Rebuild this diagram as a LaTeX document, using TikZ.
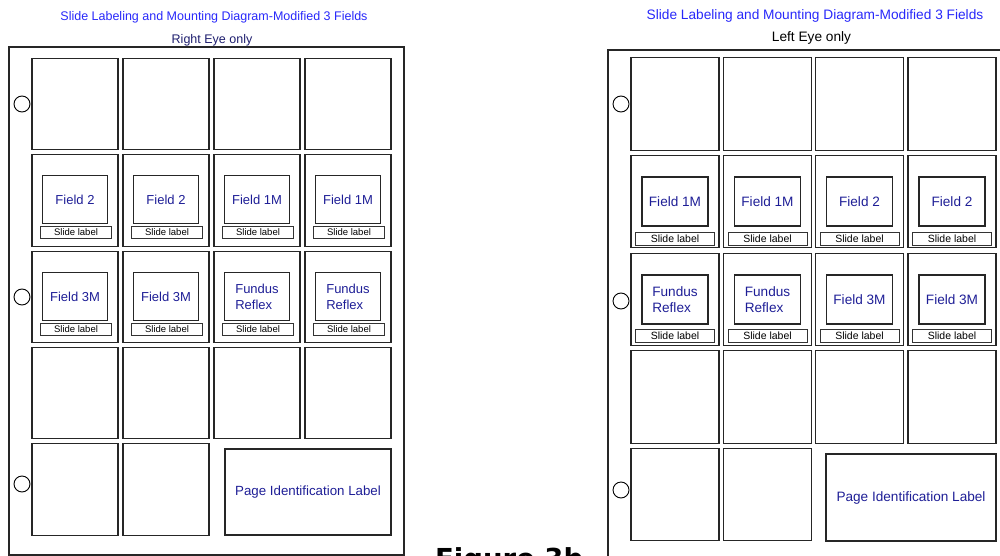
\documentclass[tikz,border=0pt]{standalone}
\usepackage{fontspec}
\setmainfont{Liberation Sans}
\newfontfamily\figfont{DejaVu Sans}
\definecolor{titleblue}{RGB}{40,40,250}
\definecolor{fieldblue}{RGB}{30,30,150}
\definecolor{eyeblue}{RGB}{30,30,110}
\begin{document}
\begin{tikzpicture}[x=1pt,y=-1pt,inner sep=0pt,
  sheet/.style={draw=black!85,line width=1.1pt},
  hole/.style={draw,circle,line width=0.9pt,minimum size=16pt},
  lslot/.style={draw=black!85,line width=1.2pt,minimum width=86pt,minimum height=91.5pt},
  rslot/.style={draw=black!85,line width=1.2pt,minimum width=88pt,minimum height=92.5pt},
  lfield/.style={draw=black!85,line width=1.1pt,minimum width=65pt,minimum height=48pt,text=fieldblue,align=left,font=\fontsize{13}{16}\selectfont},
  rfield/.style={draw=black!85,line width=1.1pt,minimum width=66pt,minimum height=49pt,text=fieldblue,align=left,font=\fontsize{13.6}{16.5}\selectfont},
  llabel/.style={draw=black!80,line width=0.8pt,minimum width=71pt,minimum height=12pt,font=\fontsize{9.5}{10}\selectfont},
  rlabel/.style={draw=black!80,line width=0.8pt,minimum width=79pt,minimum height=13pt,font=\fontsize{10.5}{11}\selectfont}]
\useasboundingbox (0,0) rectangle (1000,556);
\clip (0,0) rectangle (1000,556);
% Right eye sheet
\node[text=titleblue,font=\fontsize{12.5}{14}\selectfont] (ltitle) at (214,17) {Slide Labeling and Mounting Diagram-Modified 3 Fields};
\node[text=eyeblue,font=\fontsize{12.5}{14}\selectfont] (leye) at (212,40) {Right Eye only};
\node[sheet,minimum width=395pt,minimum height=508pt] (lsheet) at (206.5,301) {};
\foreach \y [count=\i] in {104,297,484} \node[hole] (lhole\i) at (22,\y) {};
\foreach \y [count=\r] in {104,200.5,297,393}
  \foreach \x [count=\c] in {75,166,257,348}
    \node[lslot] (lslot\r\c) at (\x,\y) {};
\node[lslot] (lslot51) at (75,489.5) {};
\node[lslot] (lslot52) at (166,489.5) {};
\node[draw=black!85,line width=1.2pt,minimum width=166pt,minimum height=86pt,text=fieldblue,font=\fontsize{13.3}{16}\selectfont] (lpage) at (308,492) {Page Identification Label};
\foreach \x/\t [count=\c] in {75/Field 2,166/Field 2,257/Field 1M,348/Field 1M} {
  \node[lfield] (lfield2\c) at (\x,199.5) {\t};
  \node[llabel] (llabel2\c) at (\x+1,232) {Slide label};
}
\foreach \x/\t [count=\c] in {75/Field 3M,166/Field 3M,257/{Fundus\\Reflex},348/{Fundus\\Reflex}} {
  \node[lfield] (lfield3\c) at (\x,296.5) {\t};
  \node[llabel] (llabel3\c) at (\x+1,329) {Slide label};
}
% Left eye sheet
\node[text=titleblue,font=\fontsize{13.7}{15}\selectfont] (rtitle) at (815,16) {Slide Labeling and Mounting Diagram-Modified 3 Fields};
\node[font=\fontsize{13.7}{15}\selectfont] (reye) at (811.5,37.5) {Left Eye only};
\node[sheet,minimum width=420pt,minimum height=540pt] (rsheet) at (818,320) {};
\foreach \y [count=\i] in {104,301,490} \node[hole] (rhole\i) at (621,\y) {};
\foreach \y [count=\r] in {104,201.5,299.5,397}
  \foreach \x [count=\c] in {675,767.5,859.5,952}
    \node[rslot] (rslot\r\c) at (\x,\y) {};
\node[rslot] (rslot51) at (675,494.5) {};
\node[rslot] (rslot52) at (767.5,494.5) {};
\node[draw=black!85,line width=1.2pt,minimum width=170pt,minimum height=87pt,text=fieldblue,font=\fontsize{13.6}{16}\selectfont] (rpage) at (911,497.5) {Page Identification Label};
\foreach \x/\t [count=\c] in {675/Field 1M,767.5/Field 1M,859.5/Field 2,952/Field 2} {
  \node[rfield] (rfield2\c) at (\x,201.5) {\t};
  \node[rlabel] (rlabel2\c) at (\x,238.5) {Slide label};
}
\foreach \x/\t [count=\c] in {675/{Fundus\\Reflex},767.5/{Fundus\\Reflex},859.5/Field 3M,952/Field 3M} {
  \node[rfield] (rfield3\c) at (\x,299.5) {\t};
  \node[rlabel] (rlabel3\c) at (\x,335.5) {Slide label};
}
% Caption
\node[anchor=base west,font=\figfont\bfseries\fontsize{27.5}{30}\selectfont] (caption) at (435,568) {Figure 3b};
\end{tikzpicture}
\end{document}
